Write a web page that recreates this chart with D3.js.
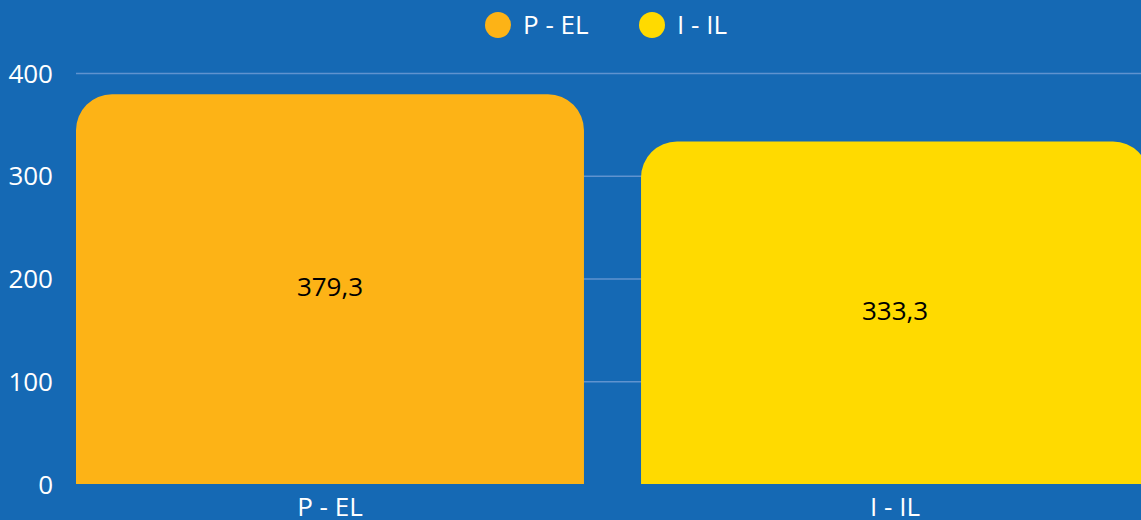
<!DOCTYPE html>
<html><head><meta charset="utf-8">
<script src="https://cdn.jsdelivr.net/npm/d3@7"></script>
<style>
html,body{margin:0;padding:0;background:#1569b4;overflow:hidden;}
svg{display:block;font-family:"Open Sans","Noto Sans",sans-serif;}
</style></head>
<body>
<svg id="c" width="1141" height="520"></svg>
<script>
const categories = ["P - EL", "I - IL"];
const values = [379.3, 333.3];
const colors = ["#fdb316", "#ffda00"];
const yTicks = [0, 100, 200, 300, 400];

const svg = d3.select("#c");
const W = 1141, H = 520;
svg.append("rect").attr("width", W).attr("height", H).attr("fill", "#1569b4");

const y = d3.scaleLinear().domain([0, 400]).range([484, 73]);
const x = d3.scaleBand().domain(categories).range([76, 1149]).paddingInner(0.101).paddingOuter(0);

// gridlines
svg.append("g").selectAll("line").data(yTicks.filter(d => d > 0)).join("line")
  .attr("x1", 76).attr("x2", W)
  .attr("y1", d => y(d) + 0.5).attr("y2", d => y(d) + 0.5)
  .attr("stroke", "#5f93cf").attr("stroke-width", 1.3);

// y axis
const yAxis = d3.axisLeft(y).tickValues(yTicks).tickSize(0).tickPadding(0);
const ga = svg.append("g").attr("transform", "translate(53,0)").call(yAxis);
ga.select(".domain").remove();
ga.selectAll("text").attr("fill", "#ffffff").attr("font-size", 26)
  .attr("font-family", "Open Sans").attr("dy", "0.35em");

// bars with rounded top corners
const r = 36;
function barPath(x0, w, yTop, yBot) {
  const rr = Math.min(r, w / 2, yBot - yTop);
  return `M${x0},${yBot}V${yTop + rr}A${rr},${rr} 0 0 1 ${x0 + rr},${yTop}H${x0 + w - rr}A${rr},${rr} 0 0 1 ${x0 + w},${yTop + rr}V${yBot}Z`;
}
svg.append("g").selectAll("path").data(categories).join("path")
  .attr("d", (c, i) => barPath(x(c), x.bandwidth(), y(values[i]), y(0)))
  .attr("fill", (c, i) => colors[i]);

// value labels
svg.append("g").selectAll("text").data(categories).join("text")
  .attr("x", c => x(c) + x.bandwidth() / 2)
  .attr("y", (c, i) => (y(values[i]) + y(0)) / 2 - 2)
  .attr("dy", "0.35em")
  .attr("text-anchor", "middle")
  .attr("font-size", 26).attr("fill", "#000000")
  .text((c, i) => d3.format(".1f")(values[i]).replace(".", ","));

// x axis labels
const xAxis = d3.axisBottom(x).tickSize(0).tickPadding(0);
const gx = svg.append("g").attr("transform", "translate(0,484)").call(xAxis);
gx.select(".domain").remove();
gx.selectAll("text").attr("fill", "#ffffff").attr("font-size", 26)
  .attr("font-family", "Open Sans").attr("dy", null).attr("y", 32);

// legend
const legendX = [498, 652];
const lg = svg.append("g").selectAll("g").data(categories).join("g")
  .attr("transform", (c, i) => `translate(${legendX[i]},25)`);
lg.append("circle").attr("r", 13).attr("fill", (c, i) => colors[i]);
lg.append("text").attr("x", 25).attr("dy", "0.35em").attr("font-size", 26)
  .attr("fill", "#ffffff").text(c => c);
</script>
</body></html>
